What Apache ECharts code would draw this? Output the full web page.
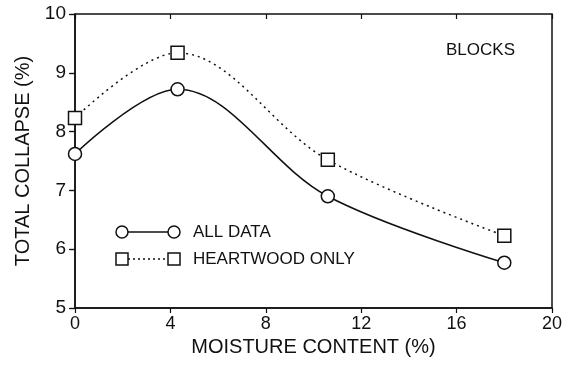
<!DOCTYPE html>
<html>
<head>
<meta charset="utf-8">
<script src="https://cdn.jsdelivr.net/npm/echarts@6/dist/echarts.min.js"></script>
<style>
  html, body { margin: 0; padding: 0; background: #fff; }
  #chart { width: 565px; height: 377px; }
</style>
</head>
<body>
<div id="chart"></div>
<script>
// values
var moisture = [0, 4.3, 10.6, 18];
var allData = [7.62, 8.72, 6.9, 5.77];
var heartwood = [8.23, 9.34, 7.52, 6.23];
var xTicks = [0, 4, 8, 12, 16, 20];
var yTicks = [5, 6, 7, 8, 9, 10];

function pairs(xs, ys) {
  var out = [];
  for (var i = 0; i < xs.length; i++) {
    out.push([xs[i], ys[i]]);
  }
  return out;
}

var font = 'Liberation Sans';
var chart = echarts.init(document.getElementById('chart'));

var baseX = {
  type: 'value',
  min: xTicks[0],
  max: xTicks[xTicks.length - 1],
  interval: 4,
  splitLine: { show: false }
};
var baseY = {
  type: 'value',
  min: yTicks[0],
  max: yTicks[yTicks.length - 1],
  interval: 1,
  splitLine: { show: false }
};

var options = {
  backgroundColor: '#fff',
  animation: false,
  title: {
    text: 'BLOCKS',
    left: 441,
    top: 37,
    textStyle: { fontFamily: font, fontSize: 17, fontWeight: 'normal', color: '#111' }
  },
  grid: {
    left: 75,
    right: 13,
    top: 14,
    bottom: 69,
    show: true,
    borderColor: '#111',
    borderWidth: 1.5,
    outerBoundsMode: 'none'
  },
  xAxis: [
    Object.assign({}, baseX, {
      name: 'MOISTURE CONTENT (%)',
      nameLocation: 'middle',
      nameGap: 23,
      nameTextStyle: { fontFamily: font, fontSize: 20, color: '#111' },
      axisLine: { lineStyle: { color: '#111', width: 1.5 } },
      axisTick: { length: 5, lineStyle: { color: '#111', width: 1.2 } },
      axisLabel: { margin: 7, fontFamily: font, fontSize: 18, color: '#111' }
    }),
    Object.assign({}, baseX, {
      axisLine: { show: false },
      axisTick: { inside: true, length: 5, lineStyle: { color: '#111', width: 1.2 } },
      axisLabel: { show: false }
    })
  ],
  yAxis: [
    Object.assign({}, baseY, {
      name: 'TOTAL COLLAPSE (%)',
      nameLocation: 'middle',
      nameGap: 41,
      nameTextStyle: { fontFamily: font, fontSize: 20, color: '#111' },
      axisLine: { lineStyle: { color: '#111', width: 1.5 } },
      axisTick: { length: 6, lineStyle: { color: '#111', width: 1.2 } },
      axisLabel: { margin: 9, fontFamily: font, fontSize: 19, color: '#111' }
    }),
    Object.assign({}, baseY, {
      axisLine: { show: false },
      axisTick: { inside: true, length: 5, lineStyle: { color: '#111', width: 1.2 } },
      axisLabel: { show: false }
    })
  ],
  series: [
    {
      name: 'ALL DATA',
      type: 'line',
      smooth: 0.35,
      data: pairs(moisture, allData),
      symbol: 'circle',
      symbolSize: 13,
      lineStyle: { color: '#111', width: 1.5 },
      itemStyle: { color: '#fff', borderColor: '#111', borderWidth: 1.5 },
      z: 3
    },
    {
      name: 'HEARTWOOD ONLY',
      type: 'line',
      smooth: 0.35,
      data: pairs(moisture, heartwood),
      symbol: 'rect',
      symbolSize: 13,
      lineStyle: { color: '#111', width: 1.5, type: [2, 4] },
      itemStyle: { color: '#fff', borderColor: '#111', borderWidth: 1.5 },
      z: 3
    }
  ],
  graphic: [
    // legend: o---o ALL DATA
    { type: 'line', shape: { x1: 128, y1: 232, x2: 168, y2: 232 }, style: { stroke: '#111', lineWidth: 1.3 } },
    { type: 'circle', shape: { cx: 122, cy: 232, r: 6 }, style: { fill: '#fff', stroke: '#111', lineWidth: 1.5 } },
    { type: 'circle', shape: { cx: 174, cy: 232, r: 6 }, style: { fill: '#fff', stroke: '#111', lineWidth: 1.5 } },
    { type: 'text', left: 193, top: 224, style: { text: 'ALL DATA', fontFamily: font, fontSize: 17, fill: '#111' } },
    // legend: []...[] HEARTWOOD ONLY
    { type: 'line', shape: { x1: 128, y1: 259, x2: 168, y2: 259 }, style: { stroke: '#111', lineWidth: 1.3, lineDash: [2, 3] } },
    { type: 'rect', shape: { x: 116, y: 253, width: 12, height: 12 }, style: { fill: '#fff', stroke: '#111', lineWidth: 1.5 } },
    { type: 'rect', shape: { x: 168, y: 253, width: 12, height: 12 }, style: { fill: '#fff', stroke: '#111', lineWidth: 1.5 } },
    { type: 'text', left: 193, top: 251, style: { text: 'HEARTWOOD ONLY', fontFamily: font, fontSize: 17, fill: '#111' } }
  ]
};

chart.setOption(options);
</script>
</body>
</html>
